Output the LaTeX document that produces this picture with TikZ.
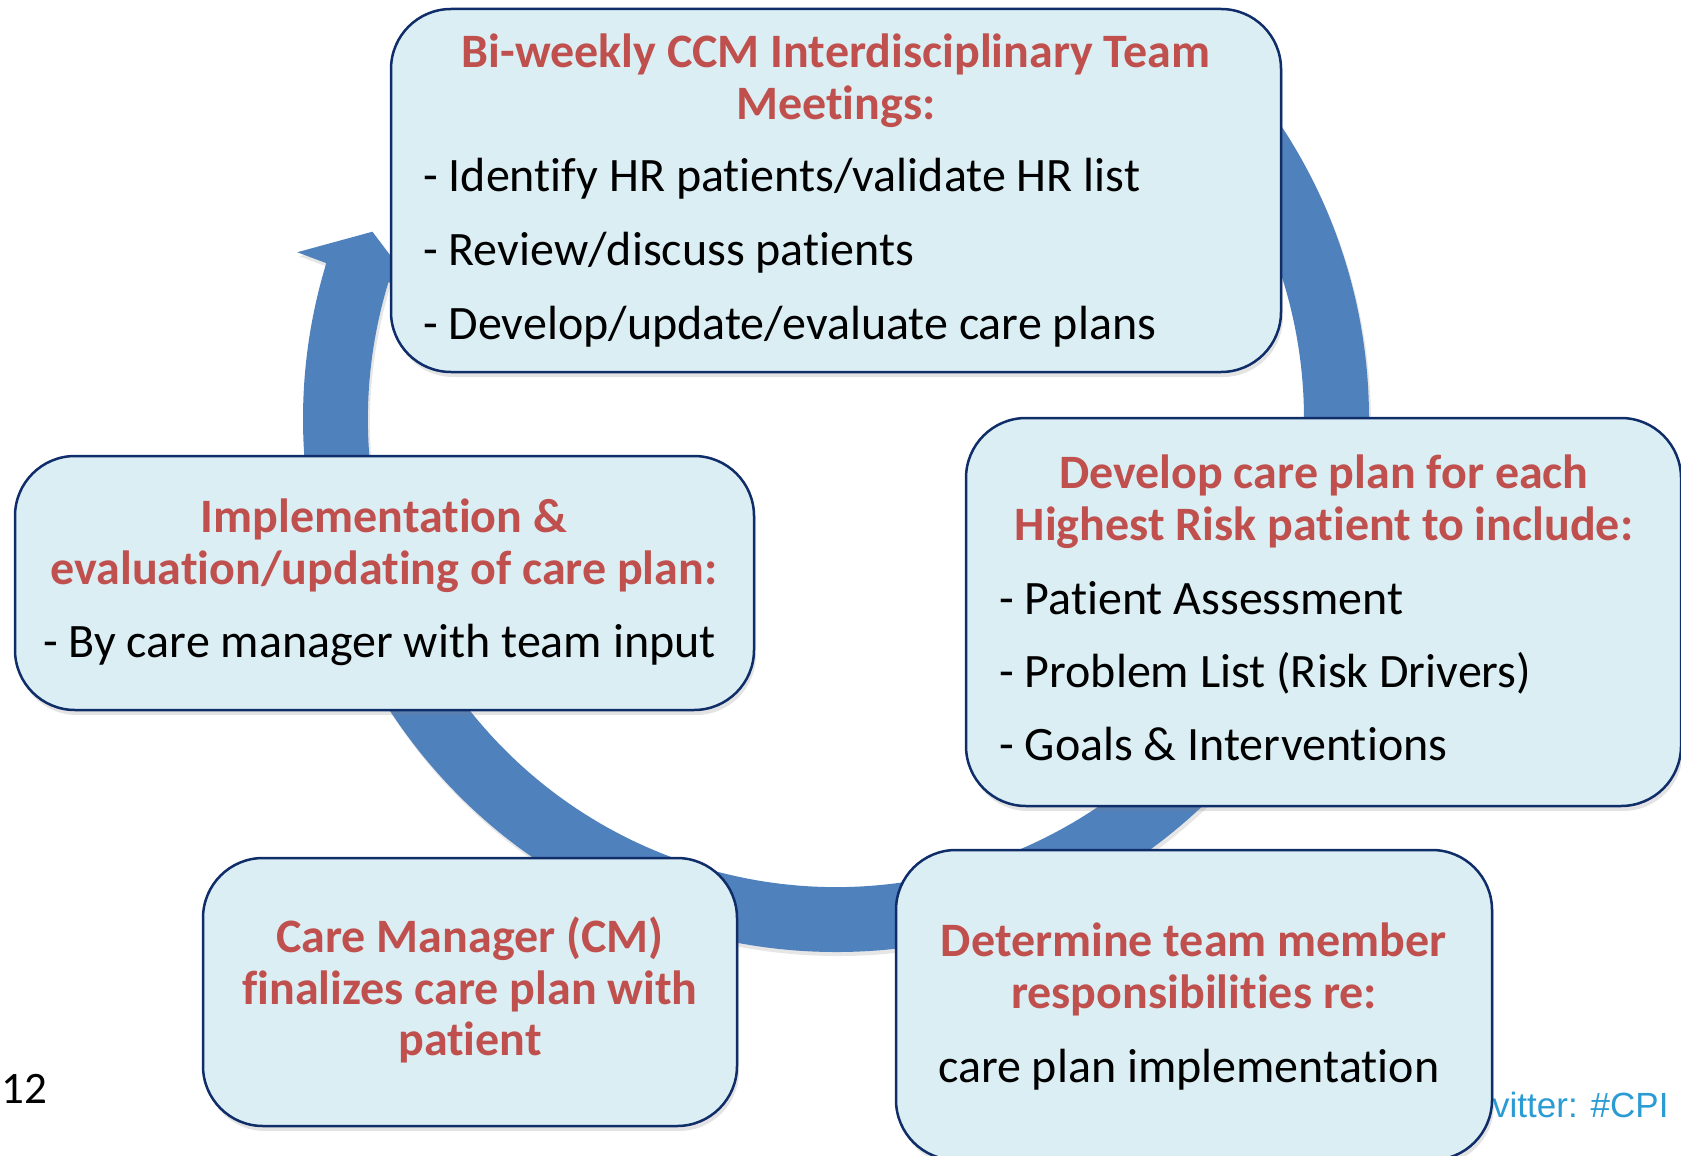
\documentclass[tikz,border=0pt]{standalone}
\usepackage{fontspec}
\setmainfont{Carlito}[Ligatures={NoCommon}]
\newfontfamily\twfont{Liberation Sans}
\usetikzlibrary{shadows}
\newcommand\nolig{\kern0pt\relax}
\definecolor{boxfill}{HTML}{DBEEF4}
\definecolor{boxline}{HTML}{0F2D69}
\definecolor{titlered}{HTML}{C0504D}
\definecolor{arrowblue}{HTML}{4F81BD}
\definecolor{twblue}{HTML}{2A9BD3}
\begin{document}
\begin{tikzpicture}[x=1pt,y=-1pt,
  box/.style={draw=boxline, line width=2.5pt, fill=boxfill, rounded corners=60pt, inner sep=0pt,
    drop shadow={shadow xshift=2pt, shadow yshift=-5pt, opacity=0.22}},
  ttl/.style={text=titlered, font=\fontsize{48}{52}\selectfont\bfseries, anchor=base, inner sep=0pt},
  bdy/.style={text=black, font=\fontsize{48}{52}\selectfont, anchor=base west, inner sep=0pt}]
\useasboundingbox (0,0) rectangle (1681,1156);
\clip (0,0) rectangle (1681,1156);

% circular arrow
\begin{scope}[shift={(836,419)}]
\fill[arrowblue, drop shadow={shadow xshift=2pt, shadow yshift=-4pt, opacity=0.2}]
  (-40:533) arc[start angle=-40, end angle=197, radius=533]
  -- (197.2:564) -- (202:500) -- (197:438) -- (197:468)
  arc[start angle=197, end angle=-40, radius=468] -- cycle;
\end{scope}

% side texts
\node[anchor=base west, inner sep=0pt, font=\fontsize{45}{50}\selectfont] (pagenum) at (1,1103) {12};
\node[anchor=base west, inner sep=0pt, text=twblue, font=\twfont\fontsize{35}{40}\selectfont] (tw) at (1492,1117) {vitter: \#CPI};

% boxes
\node[box, minimum width=890pt, minimum height=363pt] (topbox) at (836,190.5) {};
\node[box, minimum width=715pt, minimum height=388pt] (rightbox) at (1323.5,612) {};
\node[box, minimum width=739pt, minimum height=254pt] (leftbox) at (384.5,583) {};
\node[box, minimum width=534pt, minimum height=268pt] (blbox) at (470,992) {};
\node[box, minimum width=596pt, minimum height=310pt] (brbox) at (1194,1005) {};

% top box text
\node[ttl] (t1) at (836,67) {Bi-weekly CCM Interdisciplinary Team};
\node[ttl] (t2) at (836,119) {Meet\nolig ings:};
\node[bdy] (t3) at (423,191) {- Identify HR pat\nolig ients/validate HR list};
\node[bdy] (t4) at (423,265) {- Review/discuss pat\nolig ients};
\node[bdy] (t5) at (423,339) {- Develop/update/evaluate care plans};

% right box text
\node[ttl] (r1) at (1324,488) {Develop care plan for each};
\node[ttl] (r2) at (1324,540) {Highest Risk pat\nolig ient to include:};
\node[bdy] (r3) at (999,614) {- Pat\nolig ient Assessment};
\node[bdy] (r4) at (999,687) {- Problem List (Risk Drivers)};
\node[bdy] (r5) at (999,760) {- Goals \& Intervent\nolig ions};

% left box text
\node[ttl] (l1) at (384,532) {Implementat\nolig ion \&};
\node[ttl] (l2) at (384,584) {evaluat\nolig ion/updat\nolig ing of care plan:};
\node[bdy] (l3) at (43,657) {- By care manager with team input};

% bottom-left box text
\node[ttl] (b1) at (470,952) {Care Manager (CM)};
\node[ttl] (b2) at (470,1004) {finalizes care plan with};
\node[ttl] (b3) at (470,1055) {pat\nolig ient};

% bottom-right box text
\node[ttl] (c1) at (1194,956) {Determine team member};
\node[ttl] (c2) at (1194,1008) {responsibilit\nolig ies re:};
\node[bdy] (c3) at (938,1082) {care plan implementat\nolig ion};
\end{tikzpicture}
\end{document}
